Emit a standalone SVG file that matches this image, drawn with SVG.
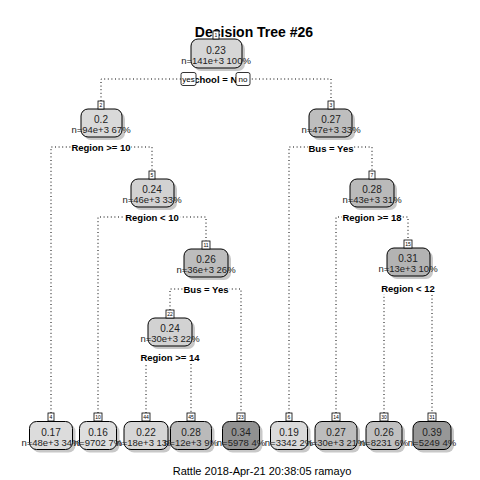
<svg xmlns="http://www.w3.org/2000/svg" width="480" height="480" viewBox="0 0 480 480">
<style>
.bg{fill:#fff}
.sh{fill:#9a9a9a;opacity:0.55}
.bx{stroke:#000;stroke-width:1}
.nb{fill:#fff;stroke:#000;stroke-width:0.8}
.nt{font-family:"Liberation Sans",Arial,sans-serif;font-size:5px;text-anchor:middle;fill:#000}
.v{font-family:"Liberation Sans",Arial,sans-serif;font-size:10px;text-anchor:middle;fill:#222}
.n{font-family:"Liberation Sans",Arial,sans-serif;font-size:9.5px;text-anchor:middle;fill:#222}
.sp{font-family:"Liberation Sans",Arial,sans-serif;font-size:9.5px;font-weight:bold;text-anchor:middle;fill:#000}
.spb{fill:#fff}
.yn{fill:#fff;stroke:#000;stroke-width:0.8}
.ynt{font-family:"Liberation Sans",Arial,sans-serif;font-size:8px;text-anchor:middle;fill:#000}
.c{fill:none;stroke:#000;stroke-width:1;stroke-dasharray:1 2.6}
.title{font-family:"Liberation Sans",Arial,sans-serif;font-size:14px;font-weight:bold;text-anchor:middle;fill:#000}
.foot{font-family:"Liberation Sans",Arial,sans-serif;font-size:11px;text-anchor:middle;fill:#000}
</style>
<rect class="bg" x="0" y="0" width="480" height="480"/>
<text class="title" x="254" y="37">Decision Tree #26</text>

<g id="connectors">
<path class="c" d="M101,101 V79 H331 V101"/>
<path class="c" d="M51,413 V147 H152 V171"/>
<path class="c" d="M289,413 V147 H372 V171"/>
<path class="c" d="M98,413 V217 H206 V241"/>
<path class="c" d="M336,413 V217 H408 V240"/>
<path class="c" d="M170,310 V289 H241 V413"/>
<path class="c" d="M384,413 V288 H432 V413"/>
<path class="c" d="M146,413 V357 H191 V413"/>
</g>

<g id="labels">
<rect class="spb" x="186" y="74" width="60" height="11"/>
<text class="sp" x="216" y="83">school = No</text>
<rect class="yn" x="181" y="72.5" width="15" height="13" rx="2"/>
<text class="ynt" x="188.5" y="82">yes</text>
<rect class="yn" x="236" y="72.5" width="14" height="13" rx="2"/>
<text class="ynt" x="243" y="82">no</text>
<rect class="spb" x="71" y="142" width="60" height="11"/>
<text class="sp" x="101" y="151">Region &gt;= 10</text>
<rect class="spb" x="308" y="143" width="46" height="11"/>
<text class="sp" x="331" y="152">Bus = Yes</text>
<rect class="spb" x="124" y="212" width="56" height="11"/>
<text class="sp" x="152" y="221">Region &lt; 10</text>
<rect class="spb" x="342" y="212" width="60" height="11"/>
<text class="sp" x="372" y="221">Region &gt;= 18</text>
<rect class="spb" x="183" y="284" width="46" height="11"/>
<text class="sp" x="206" y="293">Bus = Yes</text>
<rect class="spb" x="380" y="283" width="56" height="11"/>
<text class="sp" x="408" y="292">Region &lt; 12</text>
<rect class="spb" x="140" y="352" width="60" height="11"/>
<text class="sp" x="170" y="361">Region &gt;= 14</text>
</g>

<g id="node1">
<rect class="sh" x="194" y="42" width="51" height="29" rx="7"/>
<rect class="bx" x="191" y="39" width="51" height="29" rx="7" fill="#d6d6d6"/>
<rect class="nb" x="213" y="31" width="6" height="8"/>
<text class="nt" x="216" y="37">1</text>
<text class="v" x="216" y="54">0.23</text>
<text class="n" x="216" y="64">n=141e+3  100%</text>
</g>
<g id="node2">
<rect class="sh" x="84" y="112" width="41" height="28" rx="7"/>
<rect class="bx" x="81" y="109" width="41" height="28" rx="7" fill="#d9d9d9"/>
<rect class="nb" x="98" y="101" width="6" height="8"/>
<text class="nt" x="101" y="107">2</text>
<text class="v" x="101" y="123">0.2</text>
<text class="n" x="101" y="133">n=94e+3  67%</text>
</g>
<g id="node3">
<rect class="sh" x="312" y="112" width="43" height="28" rx="7"/>
<rect class="bx" x="309" y="109" width="43" height="28" rx="7" fill="#bebebe"/>
<rect class="nb" x="328" y="101" width="6" height="8"/>
<text class="nt" x="331" y="107">3</text>
<text class="v" x="331" y="123">0.27</text>
<text class="n" x="331" y="133">n=47e+3  33%</text>
</g>
<g id="node5">
<rect class="sh" x="134" y="182" width="43" height="28" rx="7"/>
<rect class="bx" x="131" y="179" width="43" height="28" rx="7" fill="#d2d2d2"/>
<rect class="nb" x="149" y="171" width="6" height="8"/>
<text class="nt" x="152" y="177">5</text>
<text class="v" x="152" y="193">0.24</text>
<text class="n" x="152" y="203">n=46e+3  33%</text>
</g>
<g id="node7">
<rect class="sh" x="353" y="182" width="44" height="28" rx="7"/>
<rect class="bx" x="350" y="179" width="44" height="28" rx="7" fill="#bababa"/>
<rect class="nb" x="369" y="171" width="6" height="8"/>
<text class="nt" x="372" y="177">7</text>
<text class="v" x="372" y="193">0.28</text>
<text class="n" x="372" y="203">n=43e+3  31%</text>
</g>
<g id="node11">
<rect class="sh" x="187" y="252" width="44" height="28" rx="7"/>
<rect class="bx" x="184" y="249" width="44" height="28" rx="7" fill="#bdbdbd"/>
<rect class="nb" x="202" y="241" width="8" height="8"/>
<text class="nt" x="206" y="247">11</text>
<text class="v" x="206" y="263">0.26</text>
<text class="n" x="206" y="273">n=36e+3  26%</text>
</g>
<g id="node15">
<rect class="sh" x="390" y="251" width="43" height="28" rx="7"/>
<rect class="bx" x="387" y="248" width="43" height="28" rx="7" fill="#b3b3b3"/>
<rect class="nb" x="404" y="240" width="8" height="8"/>
<text class="nt" x="408" y="246">15</text>
<text class="v" x="408" y="262">0.31</text>
<text class="n" x="408" y="272">n=13e+3  10%</text>
</g>
<g id="node22">
<rect class="sh" x="151" y="321" width="44" height="28" rx="7"/>
<rect class="bx" x="148" y="318" width="44" height="28" rx="7" fill="#d2d2d2"/>
<rect class="nb" x="166" y="310" width="8" height="8"/>
<text class="nt" x="170" y="316">22</text>
<text class="v" x="170" y="332">0.24</text>
<text class="n" x="170" y="342">n=30e+3  22%</text>
</g>

<g id="leaf4">
<rect class="sh" x="32.5" y="424.5" width="43" height="28" rx="7"/>
<rect class="bx" x="29.5" y="421.5" width="43" height="28" rx="7" fill="#dcdcdc"/>
<rect class="nb" x="48" y="413" width="6" height="8"/>
<text class="nt" x="51" y="419">4</text>
<text class="v" x="51" y="435.5">0.17</text>
<text class="n" x="51" y="446">n=48e+3  34%</text>
</g>
<g id="leaf10">
<rect class="sh" x="82.5" y="424.5" width="37" height="28" rx="7"/>
<rect class="bx" x="79.5" y="421.5" width="37" height="28" rx="7" fill="#dedede"/>
<rect class="nb" x="94" y="413" width="8" height="8"/>
<text class="nt" x="98" y="419">10</text>
<text class="v" x="98" y="435.5">0.16</text>
<text class="n" x="98" y="446">n=9702  7%</text>
</g>
<g id="leaf44">
<rect class="sh" x="127" y="424.5" width="44" height="28" rx="7"/>
<rect class="bx" x="124" y="421.5" width="44" height="28" rx="7" fill="#d6d6d6"/>
<rect class="nb" x="142" y="413" width="8" height="8"/>
<text class="nt" x="146" y="419">44</text>
<text class="v" x="146" y="435.5">0.22</text>
<text class="n" x="146" y="446">n=18e+3  13%</text>
</g>
<g id="leaf45">
<rect class="sh" x="173.5" y="424.5" width="41" height="28" rx="7"/>
<rect class="bx" x="170.5" y="421.5" width="41" height="28" rx="7" fill="#bababa"/>
<rect class="nb" x="187" y="413" width="8" height="8"/>
<text class="nt" x="191" y="419">45</text>
<text class="v" x="191" y="435.5">0.28</text>
<text class="n" x="191" y="446">n=12e+3  9%</text>
</g>
<g id="leaf23">
<rect class="sh" x="225.5" y="424.5" width="37" height="28" rx="7"/>
<rect class="bx" x="222.5" y="421.5" width="37" height="28" rx="7" fill="#919191"/>
<rect class="nb" x="237" y="413" width="8" height="8"/>
<text class="nt" x="241" y="419">23</text>
<text class="v" x="241" y="435.5">0.34</text>
<text class="n" x="241" y="446">n=5978  4%</text>
</g>
<g id="leaf6">
<rect class="sh" x="273.5" y="424.5" width="37" height="28" rx="7"/>
<rect class="bx" x="270.5" y="421.5" width="37" height="28" rx="7" fill="#dadada"/>
<rect class="nb" x="286" y="413" width="6" height="8"/>
<text class="nt" x="289" y="419">6</text>
<text class="v" x="289" y="435.5">0.19</text>
<text class="n" x="289" y="446">n=3342  2%</text>
</g>
<g id="leaf14">
<rect class="sh" x="318" y="424.5" width="42" height="28" rx="7"/>
<rect class="bx" x="315" y="421.5" width="42" height="28" rx="7" fill="#bdbdbd"/>
<rect class="nb" x="332" y="413" width="8" height="8"/>
<text class="nt" x="336" y="419">14</text>
<text class="v" x="336" y="435.5">0.27</text>
<text class="n" x="336" y="446">n=30e+3  21%</text>
</g>
<g id="leaf30">
<rect class="sh" x="369" y="424.5" width="36" height="28" rx="7"/>
<rect class="bx" x="366" y="421.5" width="36" height="28" rx="7" fill="#c0c0c0"/>
<rect class="nb" x="380" y="413" width="8" height="8"/>
<text class="nt" x="384" y="419">30</text>
<text class="v" x="384" y="435.5">0.26</text>
<text class="n" x="384" y="446">n=8231  6%</text>
</g>
<g id="leaf31">
<rect class="sh" x="416" y="424.5" width="38" height="28" rx="7"/>
<rect class="bx" x="413" y="421.5" width="38" height="28" rx="7" fill="#979797"/>
<rect class="nb" x="428" y="413" width="8" height="8"/>
<text class="nt" x="432" y="419">31</text>
<text class="v" x="432" y="435.5">0.39</text>
<text class="n" x="432" y="446">n=5249  4%</text>
</g>

<text class="foot" x="262" y="475">Rattle 2018-Apr-21 20:38:05 ramayo</text>
</svg>
